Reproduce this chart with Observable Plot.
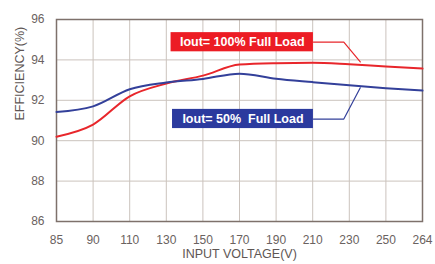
<!DOCTYPE html>
<html><head><meta charset="utf-8">
<script src="https://cdn.jsdelivr.net/npm/d3@7"></script>
<script src="https://cdn.jsdelivr.net/npm/@observablehq/plot@0.6"></script>
<style>body{margin:0;background:#fff}</style>
</head><body><div id="chart"></div>
<script>
const voltages = ["85","90","110","130","150","170","190","210","230","250","264"];
const full100 = [90.2, 90.8, 92.2, 92.83, 93.22, 93.77, 93.84, 93.86, 93.78, 93.67, 93.57];
const half50 = [91.42, 91.7, 92.55, 92.88, 93.06, 93.32, 93.07, 92.9, 92.74, 92.6, 92.48];
const yTicks = [86, 88, 90, 92, 94, 96];
const labels = [
  {name: "Iout= 100% Full Load", x1: 3.13, x2: 7.02, y1: 94.4, y2: 95.35, fill: "#ec1c24"},
  {name: "Iout= 50%  Full Load", x1: 3.17, x2: 7.02, y1: 90.6, y2: 91.55, fill: "#2b3a9e"}
];
const leaders = [
  {series: "100", pts: [[7.02, 94.88], [7.85, 94.88], [8.3, 93.9]], color: "#e8262b"},
  {series: "50", pts: [[7.02, 91.07], [7.85, 91.07], [8.3, 92.62]], color: "#33409a"}
];

const rows = [];
voltages.forEach((v, i) => {
  rows.push({i, v: full100[i], s: "100"});
  rows.push({i, v: half50[i], s: "50"});
});
const leadRows = leaders.flatMap(l => l.pts.map(([x, y]) => ({x, y, s: l.series, c: l.color})));

const chart = Plot.plot({
  width: 435, height: 264,
  marginLeft: 56, marginRight: 13, marginTop: 19, marginBottom: 43,
  style: {fontFamily: "Liberation Sans, Arial, sans-serif", fontSize: "12px", color: "#6a6260", background: "#fff"},
  x: {domain: [0, voltages.length - 1], ticks: d3.range(voltages.length), tickFormat: i => voltages[i], tickSize: 0, tickPadding: 14, label: null},
  y: {domain: [86, 96], ticks: yTicks, tickSize: 0, tickPadding: 12, label: null},
  marks: [
    Plot.gridX(d3.range(voltages.length), {stroke: "#cbc3bd", strokeOpacity: 1, strokeWidth: 1}),
    Plot.gridY(yTicks, {stroke: "#cbc3bd", strokeOpacity: 1, strokeWidth: 1}),
    Plot.frame({stroke: "#7e716b", strokeWidth: 1.5}),
    Plot.line(rows.filter(d => d.s === "100"), {x: "i", y: "v", stroke: "#e8262b", strokeWidth: 2, curve: "monotone-x"}),
    Plot.line(rows.filter(d => d.s === "50"), {x: "i", y: "v", stroke: "#33409a", strokeWidth: 2, curve: "monotone-x"}),
    Plot.line(leadRows, {x: "x", y: "y", z: "s", stroke: "c", strokeWidth: 1.2}),
    Plot.rect(labels, {x1: "x1", x2: "x2", y1: "y1", y2: "y2", fill: "fill"}),
    Plot.text(labels, {x: d => (d.x1 + d.x2) / 2, y: d => (d.y1 + d.y2) / 2, text: "name", fill: "white", fontWeight: "bold", fontSize: 12.5}),
    Plot.text(["INPUT VOLTAGE(V)"], {frameAnchor: "bottom", dy: 36, fontSize: 12.5, fill: "#5e5654"}),
    Plot.text(["EFFICIENCY(%)"], {frameAnchor: "left", dx: -37, rotate: -90, fontSize: 12.5, fill: "#5e5654"})
  ]
});
document.getElementById("chart").appendChild(chart);
</script></body></html>
